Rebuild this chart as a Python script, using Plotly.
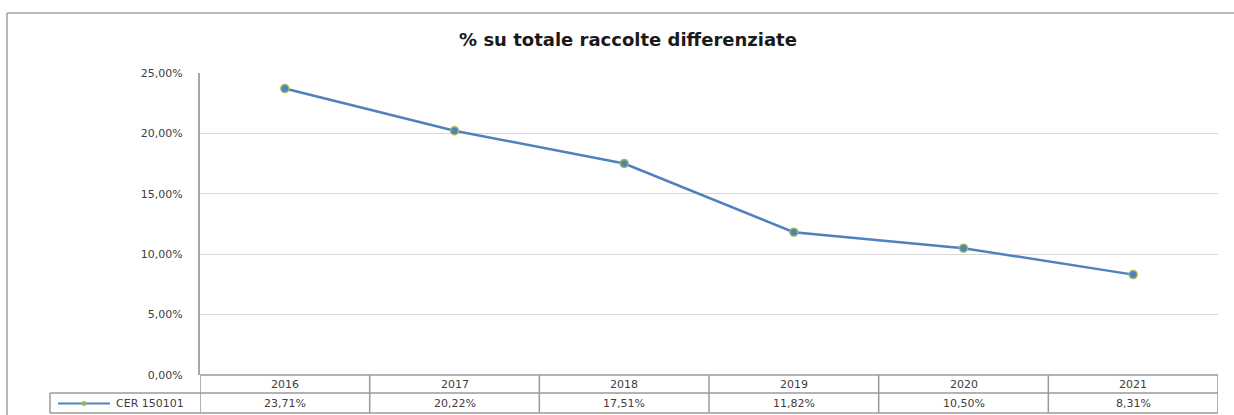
import plotly.graph_objects as go

years = ["2016", "2017", "2018", "2019", "2020", "2021"]
values = [0.2371, 0.2022, 0.1751, 0.1182, 0.1050, 0.0831]
series_name = "CER 150101"
title = "% su totale raccolte differenziate"
y_ticks = [0, 0.05, 0.10, 0.15, 0.20, 0.25]

W, H = 1234, 415
L, R, T, B = 200, 16, 73, 40
PW, PH = W - L - R, H - T - B

def px(x):
    return (x - L) / PW

def py(y):
    return (H - B - y) / PH

LINE_COL = "#4F81BD"
GRID = "#d9d9d9"
TBL = "#9a9a9a"
FONT = "DejaVu Sans"
TXT = "#404040"

fig = go.Figure()
fig.add_trace(go.Scatter(
    x=years, y=values, mode="lines+markers", name=series_name,
    line=dict(color=LINE_COL, width=2.5),
    marker=dict(size=8, color=LINE_COL, line=dict(color="#9BBB59", width=1.5)),
    showlegend=False,
))

shapes = []
# outer chart border
shapes.append(dict(type="line", xref="paper", yref="paper", x0=px(7), x1=px(1240), y0=py(13), y1=py(13), line=dict(color="#a0a0a0", width=1.5)))
shapes.append(dict(type="line", xref="paper", yref="paper", x0=px(7), x1=px(7), y0=py(13), y1=py(420), line=dict(color="#a0a0a0", width=1.5)))
# data table
hdr_bot, row_bot = 393, 413
shapes.append(dict(type="line", xref="paper", yref="paper", x0=0, x1=1, y0=0, y1=0, line=dict(color=TBL, width=1.5)))
for i in range(len(years) + 1):
    shapes.append(dict(type="line", xref="x", yref="paper", x0=i - 0.5, x1=i - 0.5, y0=0, y1=py(row_bot), line=dict(color=TBL, width=1.5)))
shapes.append(dict(type="line", xref="paper", yref="paper", x0=px(50), x1=1, y0=py(hdr_bot), y1=py(hdr_bot), line=dict(color=TBL, width=1.5)))
shapes.append(dict(type="line", xref="paper", yref="paper", x0=px(50), x1=1, y0=py(row_bot), y1=py(row_bot), line=dict(color=TBL, width=1.5)))
shapes.append(dict(type="line", xref="paper", yref="paper", x0=px(50), x1=px(50), y0=py(hdr_bot), y1=py(row_bot), line=dict(color=TBL, width=1.5)))
# legend key
shapes.append(dict(type="line", xref="paper", yref="paper", x0=px(58), x1=px(110), y0=py(403.5), y1=py(403.5), line=dict(color=LINE_COL, width=2)))
shapes.append(dict(type="circle", xref="paper", yref="paper", x0=px(81.5), x1=px(86.5), y0=py(406), y1=py(401), fillcolor="#9BBB59", line=dict(color="#9BBB59", width=0)))

annotations = []
for i, (yr, v) in enumerate(zip(years, values)):
    annotations.append(dict(x=i, y=py(384), xref="x", yref="paper", xanchor="center", yanchor="middle",
                            text=yr, showarrow=False, font=dict(family=FONT, size=11, color=TXT)))
    annotations.append(dict(x=i, y=py(403.5), xref="x", yref="paper", xanchor="center", yanchor="middle",
                            text=f"{v*100:.2f}%".replace(".", ","), showarrow=False, font=dict(family=FONT, size=11, color=TXT)))
annotations.append(dict(x=px(114), y=py(403.5), xref="paper", yref="paper", xanchor="left", yanchor="middle",
                        text=series_name, showarrow=False, font=dict(family=FONT, size=11, color=TXT)))

fig.update_layout(
    width=W, height=H,
    margin=dict(l=L, r=R, t=T, b=B),
    paper_bgcolor="white", plot_bgcolor="white",
    separators=",.",
    title=dict(text="<b>" + title + "</b>", x=628 / W, xanchor="center", y=1 - 40 / H, yanchor="middle",
               font=dict(family=FONT, size=18, color="#1a1a1a")),
    xaxis=dict(type="category", range=[-0.5, 5.5], showticklabels=False, showgrid=False, zeroline=False,
               showline=False, ticks=""),
    yaxis=dict(range=[0, 0.25], tickvals=y_ticks, tickformat=".2%", showgrid=True, gridcolor=GRID, gridwidth=1.2,
               zeroline=False, showline=True, linecolor="#a6a6a6", linewidth=2, ticks="",
               ticklabelstandoff=13, tickfont=dict(family=FONT, size=11, color=TXT)),
    shapes=shapes, annotations=annotations,
)

fig.write_html("out.html", config={"displayModeBar": False},
               post_script="document.body.style.margin='0';")
